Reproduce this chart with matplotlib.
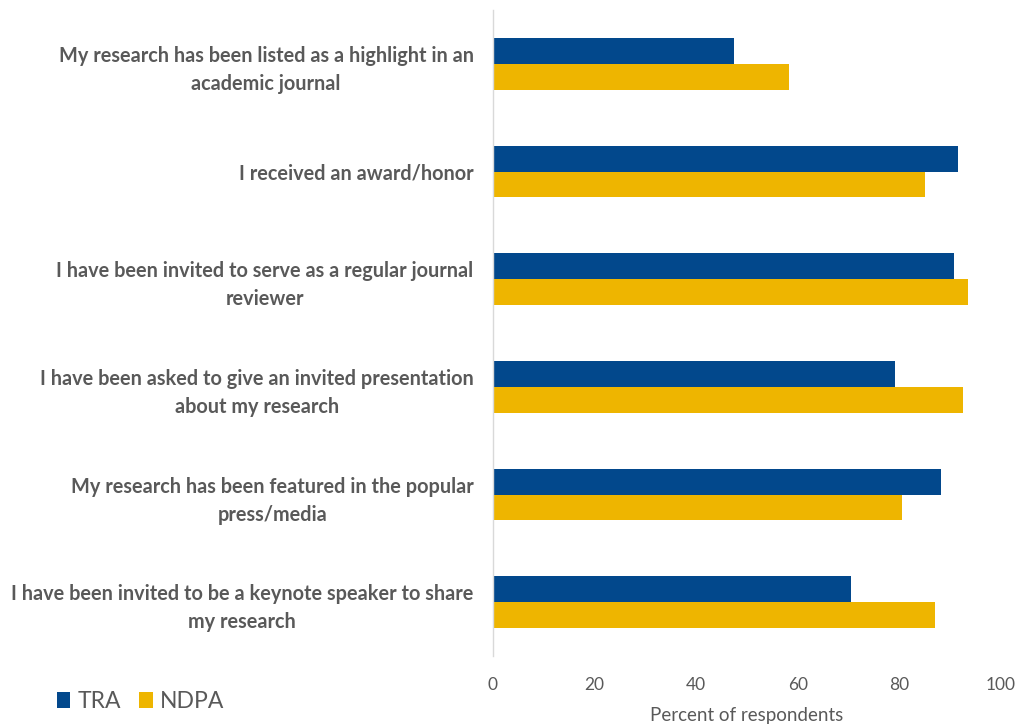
import matplotlib
matplotlib.use("Agg")
import matplotlib.pyplot as plt
import numpy as np

categories = [
    "My research has been listed as a highlight in an\nacademic journal",
    "I received an award/honor",
    "I have been invited to serve as a regular journal\nreviewer",
    "I have been asked to give an invited presentation\nabout my research",
    "My research has been featured in the popular\npress/media",
    "I have been invited to be a keynote speaker to share\nmy research",
]
tra = [47.5, 91.6, 90.7, 79.2, 88.1, 70.5]
ndpa = [58.2, 85.1, 93.6, 92.5, 80.6, 87.1]
series_names = ["TRA", "NDPA"]
xticks = [0, 20, 40, 60, 80, 100]

blue = "#02488C"
gold = "#EEB500"
text_gray = "#595959"

fig = plt.figure(figsize=(10.26, 7.25), dpi=100)
ax = fig.add_axes([0.4805, 0.095, 0.4951, 0.891])

y = np.arange(len(categories))
h = 0.24
b1 = ax.barh(y - h / 2, tra, height=h, color=blue, label=series_names[0])
b2 = ax.barh(y + h / 2, ndpa, height=h, color=gold, label=series_names[1])

ax.set_ylim(len(categories) - 0.5, -0.5)
ax.set_xlim(0, 100)
ax.set_xticks(xticks)
ax.set_xticklabels([str(t) for t in xticks], fontsize=12.5, color=text_gray,
                   family="Lato")
ax.tick_params(axis="x", length=0, pad=15)
ax.set_yticks(y)
ax.set_yticklabels(categories, fontsize=14.3, color=text_gray,
                   family="Lato", fontweight="bold")
for lbl in ax.get_yticklabels():
    lbl.set_multialignment("center")
    lbl.set_linespacing(1.5)
ax.tick_params(axis="y", length=0, pad=14)

for side in ("top", "right", "bottom"):
    ax.spines[side].set_visible(False)
ax.spines["left"].set_color("#D9D9D9")
ax.spines["left"].set_linewidth(1.0)

ax.set_xlabel("Percent of respondents", fontsize=13.5, color=text_gray,
              family="Lato", labelpad=10)

leg = fig.legend(handles=[b1, b2], labels=series_names, loc="lower left",
                 bbox_to_anchor=(0.035, -0.01), ncol=2, frameon=False,
                 fontsize=16.5, handlelength=0.6, handleheight=0.7,
                 handletextpad=0.3, columnspacing=0.8)
for t in leg.get_texts():
    t.set_color(text_gray)
    t.set_family("Lato")

fig.savefig("out.png", dpi=100)
